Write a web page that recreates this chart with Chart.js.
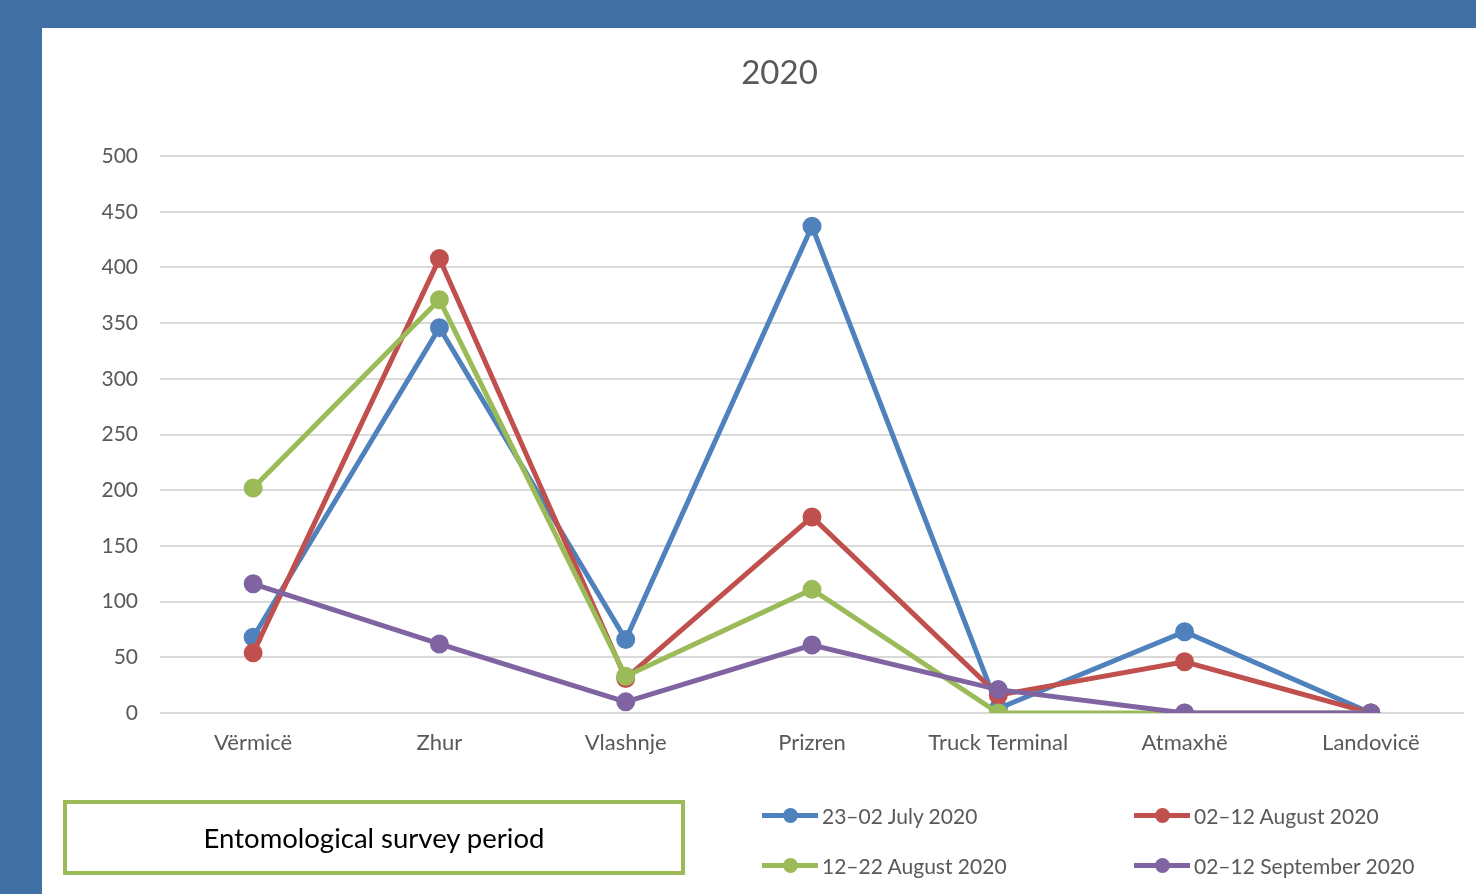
<!DOCTYPE html>
<html>
<head>
<meta charset="utf-8">
<script src="https://cdn.jsdelivr.net/npm/chart.js@4"></script>
<style>
  html, body { margin:0; padding:0; }
  body { width:1476px; height:894px; background:#4170a4; position:relative; overflow:hidden; font-family: Lato, "Open Sans", sans-serif; }
  #panel { position:absolute; left:42px; top:28px; width:1434px; height:866px; background:#fff; }
  #c { position:absolute; left:0; top:0; }
  #box { position:absolute; left:21px; top:772px; width:614px; height:67px; border:4px solid #9bbb59; display:flex; align-items:center; justify-content:center; font-size:27.5px; color:#000; }
  .leg { position:absolute; display:flex; align-items:center; font-size:21px; color:#595959; white-space:nowrap; }
  .sw { position:relative; width:56px; height:5px; margin-right:4px; }
  .sw i { position:absolute; left:21px; top:-5px; width:15px; height:15px; border-radius:50%; }
</style>
</head>
<body>
<div id="panel">
  <canvas id="c" width="1434" height="866"></canvas>
  <div id="box">Entomological survey period</div>
  <div id="legend"></div>
</div>
<script>
const title = "2020";
const categories = ["Vërmicë", "Zhur", "Vlashnje", "Prizren", "Truck Terminal", "Atmaxhë", "Landovicë"];
const seriesNames = ["23–02 July 2020", "02–12 August 2020", "12–22 August 2020", "02–12 September 2020"];
const julyValues = [68, 346, 66, 437, 4, 73, 0];
const aug1Values = [54, 408, 31, 176, 16, 46, 0];
const aug2Values = [202, 371, 33, 111, 0, 0, 0];
const septValues = [116, 62, 10, 61, 21, 0, 0];
const yTicks = [0, 50, 100, 150, 200, 250, 300, 350, 400, 450, 500];
const colors = ["#4f81bd", "#c0504d", "#9bbb59", "#8064a2"];

const allValues = [julyValues, aug1Values, aug2Values, septValues];
const datasets = allValues.map((vals, i) => ({
  label: seriesNames[i],
  data: vals,
  order: allValues.length - 1 - i,
  borderColor: colors[i],
  backgroundColor: colors[i],
  pointBackgroundColor: colors[i],
  pointBorderColor: colors[i],
  borderWidth: 5,
  pointRadius: 7,
  pointHoverRadius: 7,
  tension: 0
}));

new Chart(document.getElementById('c'), {
  type: 'line',
  data: { labels: categories, datasets },
  options: {
    responsive: false,
    animation: false,
    layout: { padding: { left: 52, right: 11, top: 0, bottom: 0 } },
    plugins: {
      legend: { display: false },
      tooltip: { enabled: false },
      title: {
        display: true, text: title, color: '#595959',
        font: { family: 'Lato, "Open Sans", sans-serif', size: 33, weight: 'normal' },
        padding: { top: 26, bottom: 62.5 }
      }
    },
    scales: {
      x: {
        offset: true,
        grid: { display: false, drawTicks: false },
        border: { display: false },
        ticks: { color: '#595959', font: { family: 'Lato, "Open Sans", sans-serif', size: 22 }, padding: 17, maxRotation: 0, autoSkip: false },
        afterFit: s => { s.height = 181; }
      },
      y: {
        min: 0, max: 500,
        afterBuildTicks: s => { s.ticks = yTicks.map(v => ({ value: v })); },
        grid: { color: '#d9d9d9', lineWidth: 2, drawTicks: false },
        border: { display: false },
        ticks: { color: '#595959', font: { family: 'Lato, "Open Sans", sans-serif', size: 21 }, padding: 22 },
        afterFit: s => { s.width = 66; }
      }
    }
  }
});

// HTML legend built from series arrays
const legend = document.getElementById('legend');
const pos = [[720, 789], [1092, 789], [720, 839], [1092, 839]];
seriesNames.forEach((name, i) => {
  const d = document.createElement('div');
  d.className = 'leg';
  d.style.left = pos[i][0] + 'px';
  d.style.top = (pos[i][1] - 14) + 'px';
  d.innerHTML = '<span class="sw" style="background:' + colors[i] + '"><i style="background:' + colors[i] + '"></i></span>' + name;
  legend.appendChild(d);
});
</script>
</body>
</html>
